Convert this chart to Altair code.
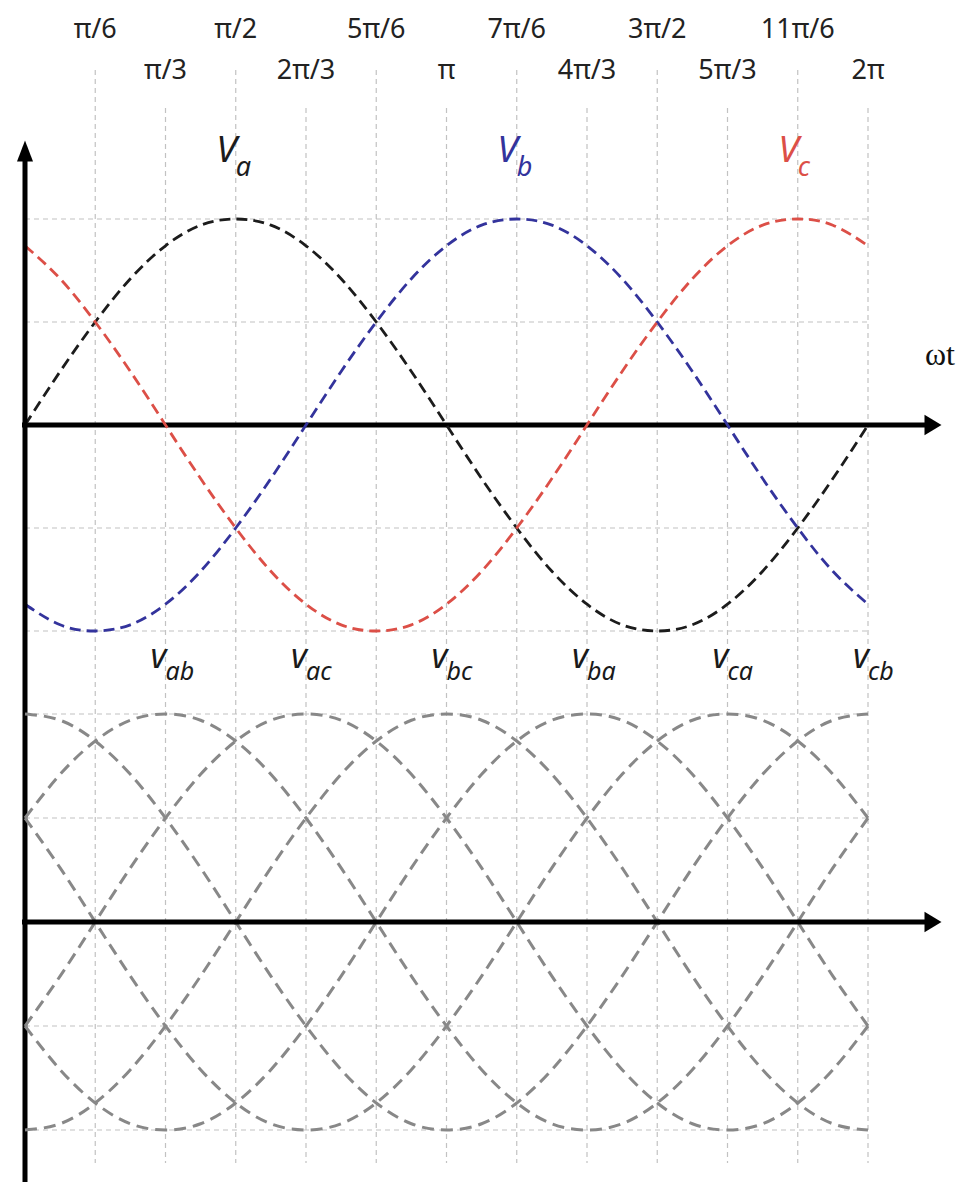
import altair as alt
import pandas as pd

# ---------------------------------------------------------------------------
# Values
# ---------------------------------------------------------------------------
STEP = 15                                   # sampling step in degrees
ANGLES = list(range(0, 361, STEP))          # 0 .. 2π

# one period of a unit cosine, every 15°, starting at its peak
WAVE = [1.00, 0.97, 0.87, 0.71, 0.50, 0.26, 0.00, -0.26, -0.50, -0.71, -0.87, -0.97,
        -1.00, -0.97, -0.87, -0.71, -0.50, -0.26, 0.00, 0.26, 0.50, 0.71, 0.87, 0.97]

# phase voltages: name, angle of the positive peak (degrees), colour
PHASE_NAMES = ["a", "b", "c"]
PHASE_PEAKS = [90, 210, 330]
PHASE_COLORS = ["#1c1c1c", "#33339c", "#dc4f47"]

# line-to-line voltages: name, angle of the positive peak (degrees)
LINE_NAMES = ["ab", "ac", "bc", "ba", "ca", "cb"]
LINE_PEAKS = [60, 120, 180, 240, 300, 360]

# angle axis ticks
TICK_ANGLES = [30, 60, 90, 120, 150, 180, 210, 240, 270, 300, 330, 360]
TICK_LABELS = ["π/6", "π/3", "π/2", "2π/3", "5π/6", "π",
               "7π/6", "4π/3", "3π/2", "5π/3", "11π/6", "2π"]

# horizontal reference levels in each panel
GRID_LEVELS = [-1.0, -0.5, 0.5, 1.0]


def wave_table(names, peaks, key):
    rows = []
    for name, peak in zip(names, peaks):
        for a in ANGLES:
            rows.append({key: name, "angle": a,
                         "value": WAVE[((a - peak) // STEP) % len(WAVE)]})
    return pd.DataFrame(rows)


phase_df = wave_table(PHASE_NAMES, PHASE_PEAKS, "phase")
line_df = wave_table(LINE_NAMES, LINE_PEAKS, "pair")
phase_lab = pd.DataFrame({"phase": PHASE_NAMES, "angle": PHASE_PEAKS})
line_lab = pd.DataFrame({"pair": LINE_NAMES, "angle": LINE_PEAKS})
ticks = pd.DataFrame({"angle": TICK_ANGLES, "label": TICK_LABELS,
                      "row": [i % 2 for i in range(len(TICK_ANGLES))]})
levels = pd.DataFrame({"level": GRID_LEVELS})
zero = pd.DataFrame({"level": [0.0]})

# ---------------------------------------------------------------------------
# Scales
# ---------------------------------------------------------------------------
X_SCALE = alt.Scale(domain=[0, 360], range=[25, 868])
Y_TOP = alt.Scale(domain=[-1, 1], range=[631, 219])
Y_BOT = alt.Scale(domain=[-1, 1], range=[1130, 714])

GRID_COLOR = "#c2c2c2"
GRID_DASH = [5, 4]
ARROW_RIGHT = "M-1,-1.2L1,0L-1,1.2Z"
ARROW_UP = "M-1,1.3L0,-1.3L1,1.3Z"

x_angle = alt.X("angle:Q", scale=X_SCALE, axis=None)

# ---------------------------------------------------------------------------
# Frame: vertical grid, tick labels, vertical axis
# ---------------------------------------------------------------------------
vgrid_hi = alt.Chart(ticks).transform_filter("datum.row == 0").mark_rule(
    color=GRID_COLOR, strokeWidth=1.2, strokeDash=GRID_DASH
).encode(x=x_angle, y=alt.value(70), y2=alt.value(1163))

vgrid_lo = alt.Chart(ticks).transform_filter("datum.row == 1").mark_rule(
    color=GRID_COLOR, strokeWidth=1.2, strokeDash=GRID_DASH
).encode(x=x_angle, y=alt.value(108), y2=alt.value(1163))

tick_hi = alt.Chart(ticks).transform_filter("datum.row == 0").mark_text(
    font="Noto Sans", fontSize=27, color="#222222", align="center", baseline="middle"
).encode(x=x_angle, y=alt.value(30), text="label:N")

tick_lo = alt.Chart(ticks).transform_filter("datum.row == 1").mark_text(
    font="Noto Sans", fontSize=27, color="#222222", align="center", baseline="middle"
).encode(x=x_angle, y=alt.value(71), text="label:N")

v_axis = alt.Chart(zero).mark_rule(color="black", strokeWidth=5).encode(
    x=alt.value(25), y=alt.value(156), y2=alt.value(1182))

v_arrow = alt.Chart(zero).mark_point(
    shape=ARROW_UP, filled=True, size=256, color="black", opacity=1
).encode(x=alt.value(25), y=alt.value(151))

omega_t = alt.Chart(zero).mark_text(
    text="ωt", font="Liberation Serif", fontSize=32, color="#111111",
    align="center", baseline="alphabetic"
).encode(x=alt.value(940), y=alt.value(365))

# ---------------------------------------------------------------------------
# Upper panel: phase voltages
# ---------------------------------------------------------------------------
hgrid_top = alt.Chart(levels).mark_rule(
    color=GRID_COLOR, strokeWidth=1.2, strokeDash=GRID_DASH
).encode(
    y=alt.Y("level:Q", scale=Y_TOP, axis=None),
    x=alt.value(25), x2=alt.value(868),
)

axis_top = alt.Chart(zero).mark_rule(color="black", strokeWidth=5).encode(
    y=alt.Y("level:Q", scale=Y_TOP, axis=None), x=alt.value(22), x2=alt.value(928))

arrow_top = alt.Chart(zero).mark_point(
    shape=ARROW_RIGHT, filled=True, size=289, color="black", opacity=1
).encode(y=alt.Y("level:Q", scale=Y_TOP, axis=None), x=alt.value(933))

phase_color = alt.Color("phase:N", scale=alt.Scale(domain=PHASE_NAMES, range=PHASE_COLORS),
                        legend=None)

phase_lines = alt.Chart(phase_df).mark_line(
    strokeWidth=2.8, strokeDash=[11, 6], interpolate="natural"
).encode(
    x=x_angle,
    y=alt.Y("value:Q", scale=Y_TOP, axis=None),
    color=phase_color,
)

phase_v = alt.Chart(phase_lab).mark_text(
    text="V", font="Noto Sans", fontStyle="italic", fontSize=37,
    align="right", baseline="alphabetic", dx=1
).encode(x=x_angle, y=alt.value(162), color=phase_color)

phase_sub = alt.Chart(phase_lab).mark_text(
    font="Noto Sans", fontStyle="italic", fontSize=27,
    align="left", baseline="alphabetic"
).encode(x=x_angle, y=alt.value(176), text="phase:N", color=phase_color)

top = alt.layer(vgrid_hi, vgrid_lo, tick_hi, tick_lo, omega_t,
                hgrid_top, axis_top, arrow_top, phase_lines, phase_v, phase_sub,
                v_axis, v_arrow)

# ---------------------------------------------------------------------------
# Lower panel: line-to-line voltages
# ---------------------------------------------------------------------------
hgrid_bot = alt.Chart(levels).mark_rule(
    color=GRID_COLOR, strokeWidth=1.2, strokeDash=GRID_DASH
).encode(
    y=alt.Y("level:Q", scale=Y_BOT, axis=None),
    x=alt.value(25), x2=alt.value(868),
)

axis_bot = alt.Chart(zero).mark_rule(color="black", strokeWidth=5).encode(
    y=alt.Y("level:Q", scale=Y_BOT, axis=None), x=alt.value(22), x2=alt.value(928))

arrow_bot = alt.Chart(zero).mark_point(
    shape=ARROW_RIGHT, filled=True, size=289, color="black", opacity=1
).encode(y=alt.Y("level:Q", scale=Y_BOT, axis=None), x=alt.value(933))

line_waves = alt.Chart(line_df).mark_line(
    strokeWidth=3, strokeDash=[12, 7], interpolate="natural", color="#888888"
).encode(
    x=x_angle,
    y=alt.Y("value:Q", scale=Y_BOT, axis=None),
    detail="pair:N",
)

line_v = alt.Chart(line_lab).mark_text(
    text="v", font="Noto Sans", fontStyle="italic", fontSize=34, color="#1a1a1a",
    align="right", baseline="alphabetic", dx=1
).encode(x=x_angle, y=alt.value(668))

line_sub = alt.Chart(line_lab).mark_text(
    font="Noto Sans", fontStyle="italic", fontSize=25, color="#1a1a1a",
    align="left", baseline="alphabetic"
).encode(x=x_angle, y=alt.value(680), text="pair:N")

bottom = alt.layer(hgrid_bot, line_waves, axis_bot, arrow_bot, line_v, line_sub)

chart = alt.layer(top, bottom).resolve_scale(y="independent").properties(
    width=971, height=1182, padding=0, background="white",
    autosize=alt.AutoSizeParams(type="none"),
).configure_view(stroke=None)

chart.save("out.html", embed_options={"renderer": "svg", "actions": False})
